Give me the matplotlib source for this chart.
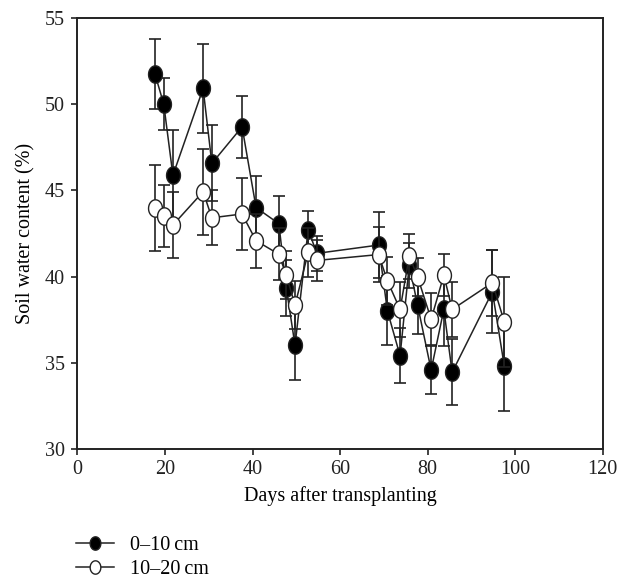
import numpy as np
import matplotlib
matplotlib.use("Agg")
import matplotlib.pyplot as plt
from matplotlib.path import Path

days = [17.7, 19.7, 21.8, 28.7, 30.7, 37.6, 40.8, 46.0, 47.7, 49.7, 52.7, 54.7,
        68.8, 70.8, 73.7, 75.8, 77.7, 80.8, 83.7, 85.6, 94.8, 97.5]
depth_0_10 = [51.74, 50.0, 45.87, 50.9, 46.56, 48.68, 44.0, 43.07, 39.35, 36.02, 42.72, 41.35,
              41.83, 38.02, 35.42, 40.67, 38.35, 34.59, 38.1, 34.46, 39.13, 34.84]
err_0_10 = [2.0, 1.5, 2.6, 2.6, 2.2, 1.8, 1.85, 1.6, 1.6, 2.0, 1.1, 1.0,
            1.9, 2.0, 1.6, 1.3, 1.7, 1.4, 2.1, 1.9, 2.4, 2.6]
depth_10_20 = [43.96, 43.51, 42.99, 44.92, 43.41, 43.63, 42.08, 41.3, 40.09, 38.35, 41.4, 40.94,
               41.28, 39.76, 38.1, 41.19, 39.99, 37.53, 40.09, 38.1, 39.65, 37.39]
err_10_20 = [2.5, 1.8, 1.9, 2.5, 1.6, 2.1, 1.55, 1.5, 1.4, 1.4, 1.4, 1.2,
             1.6, 1.4, 1.6, 1.3, 1.1, 1.5, 1.2, 1.6, 1.9, 2.6]
labels = ["0\u201310\u2009cm", "10\u201320\u2009cm"]
xticks = [0, 20, 40, 60, 80, 100, 120]
yticks = [30, 35, 40, 45, 50, 55]

plt.rcParams['font.family'] = ['Liberation Serif', 'DejaVu Serif']

t = np.linspace(0, 2 * np.pi, 80)
ell = Path(np.column_stack([0.8 * np.cos(t), np.sin(t)]), closed=True)

fig = plt.figure(figsize=(6.19, 5.81), dpi=100)
ax = fig.add_axes([0.1252, 0.2267, 0.8485, 0.7428])

for y, e, fc, z in [(depth_0_10, err_0_10, 'black', 2), (depth_10_20, err_10_20, 'white', 3)]:
    ax.errorbar(days, y, yerr=e, fmt='none', ecolor='#222222', elinewidth=1.2,
                capsize=4, capthick=1.2, zorder=z)
    ax.plot(days, y, color='#222222', lw=1.1, marker=ell, ms=12.5, mfc=fc,
            mec='#222222', mew=1.0, zorder=z + 0.5)

ax.set_xlim(0, 120)
ax.set_ylim(30, 55)
ax.set_xticks(xticks)
ax.set_yticks(yticks)
ax.tick_params(direction='out', length=4, width=1.2, labelsize=14.5, colors='#222222', pad=4)
ax.tick_params(axis='y', pad=5)
for s in ax.spines.values():
    s.set_linewidth(1.4)
    s.set_color('#222222')
ax.set_xlabel("Days after transplanting", fontsize=14.5, labelpad=5)
ax.set_ylabel("Soil water content (%)", fontsize=14.5, labelpad=7)

h1, = ax.plot([], [], color='#222222', lw=1.1, marker=ell, ms=12, mfc='black', mec='#222222')
h2, = ax.plot([], [], color='#222222', lw=1.1, marker=ell, ms=12, mfc='white', mec='#222222')
fig.legend([h1, h2], labels, loc='upper left', bbox_to_anchor=(0.122, 0.078),
           frameon=False, fontsize=14.5, handlelength=1.9, handletextpad=0.8,
           labelspacing=0.25, markerscale=0.8, borderaxespad=0, borderpad=0)

fig.savefig("out.png", dpi=100)
